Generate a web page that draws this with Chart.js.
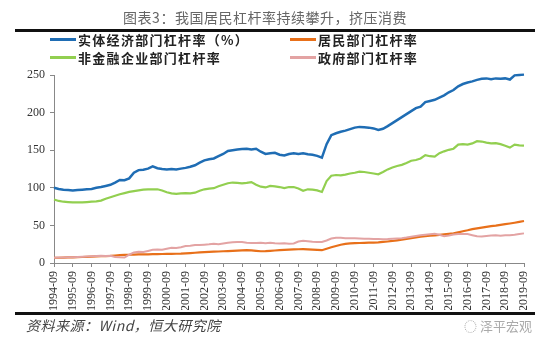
<!DOCTYPE html>
<html>
<head>
<meta charset="utf-8">
<script src="https://cdn.jsdelivr.net/npm/chart.js@4.4.1/dist/chart.umd.min.js"></script>
<style>
  html, body { margin: 0; padding: 0; background: #fff; }
  #wrap { position: relative; width: 550px; height: 348px; overflow: hidden; }
  #chart { position: absolute; left: 0; top: 0; }
  .title { position: absolute; left: 0; width: 530px; top: 7px; text-align: center;
           font-family: "Noto Sans CJK SC"; font-size: 14px; color: #666; letter-spacing: 0.5px; }
  .rule { position: absolute; left: 15px; width: 520px; height: 3px; background: #111; }
  .lg { position: absolute; font-family: "Noto Sans CJK SC"; font-size: 13px; font-weight: bold;
        color: #222; letter-spacing: 1.3px; line-height: 16px; }
  .lg i { display: inline-block; width: 26px; height: 3px; vertical-align: middle; margin-right: 2px; margin-top: -3px; }
  .src { position: absolute; left: 26px; top: 315px; font-family: "Noto Sans CJK SC"; font-style: italic;
         font-size: 14px; color: #444; letter-spacing: 0.5px; }
  .mark { position: absolute; right: 18px; top: 316px; font-family: "Noto Sans CJK SC";
          font-size: 13px; color: #aaa; }
</style>
</head>
<body>
<div id="wrap">
  <canvas id="chart" width="550" height="348"></canvas>
  <div class="title">图表3：我国居民杠杆率持续攀升，挤压消费</div>
  <div class="rule" style="top:29px"></div>
  <div class="lg" style="left:50px;top:32px"><i style="background:#1f6db4"></i>实体经济部门杠杆率（%）</div>
  <div class="lg" style="left:290px;top:32px"><i style="background:#e8701a"></i>居民部门杠杆率</div>
  <div class="lg" style="left:50px;top:50px"><i style="background:#92cf50"></i>非金融企业部门杠杆率</div>
  <div class="lg" style="left:290px;top:50px"><i style="background:#e3a3a3"></i>政府部门杠杆率</div>
  <div class="rule" style="top:312px"></div>
  <div class="src">资料来源：Wind，恒大研究院</div>
  <div class="mark">◌ 泽平宏观</div>
</div>
<script>
// 季度标签：1994-09 到 2019-09
var years = [1994, 1995, 1996, 1997, 1998, 1999, 2000, 2001, 2002, 2003, 2004, 2005, 2006,
             2007, 2008, 2009, 2010, 2011, 2012, 2013, 2014, 2015, 2016, 2017, 2018, 2019];
var months = ['03', '06', '09', '12'];
var labels = [];
years.forEach(function (y) {
    months.forEach(function (m) {
        var l = y + '-' + m;
        if (l >= '1994-09' && l <= '2019-09') labels.push(l);
    });
});

// 实体经济部门杠杆率
var shiti = [100, 98.5, 97.5, 97, 96.5, 97, 97.5, 98, 98.5, 100,
             101, 102.5, 104, 107, 110.5, 110, 112.5, 120, 123.5, 124,
             125.5, 128.5, 126, 125, 124.5, 125, 124.5, 125.5, 126.5, 128,
             130, 133.5, 136.5, 138, 139, 142, 145, 149, 150, 151,
             151.5, 152, 151, 152, 148, 145, 146, 146.5, 144, 143,
             145, 146, 145, 146, 144.5, 144, 142.5, 140, 158, 170,
             172.5, 174.5, 176, 178, 180, 181, 180.5, 180, 179, 177,
             178.5, 182, 186, 190, 194, 198, 202, 206, 208, 214,
             215.5, 217, 220, 223, 227, 230, 235, 238, 240, 241.5,
             243.5, 245, 245.5, 244.5, 245.5, 245, 245.5, 244, 249.5, 250,
             250.5];

// 居民部门杠杆率
var jumin = [7, 7, 7.2, 7.4, 7.6, 7.8, 8, 8.2, 8.4, 8.7,
             9, 9.2, 9.4, 10, 10.5, 10.8, 11, 11.2, 11.4, 11.5,
             11.6, 11.8, 11.9, 12, 12.1, 12.2, 12.3, 12.4, 12.8, 13.2,
             13.6, 14, 14.4, 14.7, 15, 15.3, 15.6, 15.9, 16.2, 16.5,
             16.8, 17, 16.8, 16.2, 15.6, 15.8, 16.2, 16.6, 17, 17.4,
             17.8, 18, 18.3, 18.5, 18.2, 17.8, 17.4, 17, 19, 21,
             22.6, 24.3, 25.5, 26, 26.3, 26.6, 26.8, 27, 27.2, 27.4,
             28, 28.6, 29.3, 30.2, 31, 32, 33, 34, 35, 35.6,
             36.2, 36.8, 37.5, 38.2, 38.8, 39.4, 40.8, 42.2, 43.5, 45,
             46, 47, 48, 49, 49.8, 50.8, 51.6, 52.5, 53.5, 54.6,
             55.8];

// 非金融企业部门杠杆率
var qiye = [84.5, 82.5, 81.5, 81, 80.5, 80.5, 80.5, 81, 81.5, 82,
            83, 85.5, 87.5, 89.5, 91.5, 93, 94.5, 95.5, 96.5, 97.5,
            98, 98, 98, 96.5, 94, 92.5, 92, 92.5, 93, 92.5,
            93.5, 96, 98, 99, 99.5, 102, 104, 106, 107, 106.5,
            106, 106.5, 107.5, 104, 101.5, 100.5, 102.5, 102, 101, 99.5,
            101, 101, 99, 96, 98, 97.5, 96.5, 94.5, 109, 116,
            117, 116.5, 117.5, 119, 120, 121.5, 121, 120, 119, 118,
            121, 124.5, 127, 129, 130.5, 133, 136, 137, 139, 143.5,
            142, 141.5, 146, 148.5, 150.5, 152, 157.5, 158, 157.5, 159,
            162, 161.5, 160, 159, 159.5, 158, 156, 153.5, 157.5, 156.5,
            156];

// 政府部门杠杆率
var zhengfu = [7, 7.2, 7.3, 7.5, 7.7, 8, 8.3, 8.6, 9, 9.3,
               9.5, 9.2, 9.5, 8, 7.5, 7.2, 11, 14, 15, 14.6,
               16, 17.5, 18, 17.5, 19, 20.4, 20, 21, 22.5, 23,
               24, 23.8, 24.3, 24.8, 25.5, 25, 26, 27, 27.5, 28,
               27.8, 27, 26.7, 26.6, 26.8, 26.3, 26.8, 26.2, 26, 26.3,
               25.5, 26, 28.5, 29.7, 29, 28.4, 28, 28, 30, 32.5,
               33.7, 33.5, 33, 32.8, 32.8, 32.6, 32.4, 32.3, 32, 31.8,
               31.5, 31.8, 32.3, 32.6, 32.8, 33.8, 35, 36, 36.8, 37.5,
               38.2, 39, 37.5, 35.5, 36.5, 38, 38.6, 38.4, 38.6, 37,
               35.5, 35.2, 36, 36.5, 36.8, 36.3, 36.8, 37, 37.5, 38.5,
               39.4];

var yTicks = [0, 50, 100, 150, 200, 250];

function line(label, data, color, width) {
    return {
        label: label,
        data: data,
        borderColor: color,
        backgroundColor: color,
        borderWidth: width,
        pointRadius: 0,
        tension: 0,
        fill: false,
        clip: 6
    };
}

var ctx = document.getElementById('chart').getContext('2d');
var chart = new Chart(ctx, {
    type: 'line',
    data: {
        labels: labels,
        datasets: [
            line('政府部门杠杆率', zhengfu, '#e3a3a3', 2),
            line('居民部门杠杆率', jumin, '#e8701a', 2.2),
            line('非金融企业部门杠杆率', qiye, '#92cf50', 2.2),
            line('实体经济部门杠杆率（%）', shiti, '#1f6db4', 2.5)
        ]
    },
    options: {
        responsive: false,
        animation: false,
        layout: { padding: { top: 75, right: 26, bottom: 38, left: 0 } },
        plugins: {
            legend: { display: false },
            tooltip: { enabled: false }
        },
        scales: {
            x: {
                offset: false,
                afterFit: function (s) { s.height = 47; },
                grid: { drawOnChartArea: false, drawTicks: true, tickLength: 4, color: '#888' },
                border: { color: '#888', width: 1 },
                ticks: {
                    autoSkip: false,
                    maxRotation: 90,
                    minRotation: 90,
                    padding: 4,
                    color: '#333',
                    font: { family: 'Liberation Serif', size: 12 },
                    callback: function (value) {
                        var l = this.getLabelForValue(value);
                        return l.slice(5) === '09' ? l : null;
                    }
                }
            },
            y: {
                min: 0,
                max: 250,
                afterFit: function (s) { s.width = 54; },
                afterBuildTicks: function (s) {
                    s.ticks = yTicks.map(function (v) { return { value: v }; });
                },
                grid: { drawOnChartArea: false, drawTicks: true, tickLength: 4, color: '#888' },
                border: { color: '#888', width: 1 },
                ticks: {
                    padding: 5,
                    color: '#333',
                    font: { family: 'Liberation Serif', size: 12 }
                }
            }
        }
    }
});
</script>
</body>
</html>
